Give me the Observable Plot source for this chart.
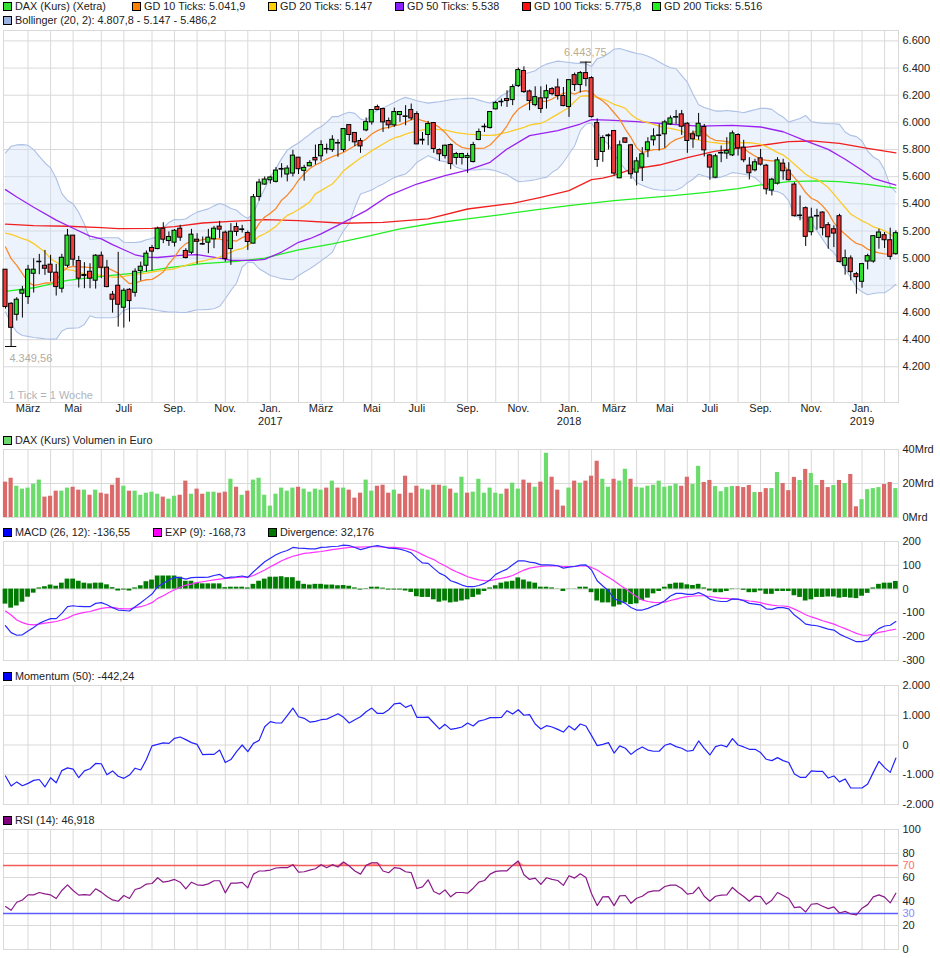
<!DOCTYPE html>
<html><head><meta charset="utf-8">
<script src="https://cdn.jsdelivr.net/npm/d3@7"></script>
<script src="https://cdn.jsdelivr.net/npm/@observablehq/plot@0.6"></script>
<style>
html,body{margin:0;padding:0;background:#fff}
#chart{position:relative;width:940px;height:958px;overflow:hidden;font-family:"Liberation Sans",Arial,sans-serif;font-size:10.85px;color:#222}
#chart svg{position:absolute;left:0;background:transparent;overflow:visible}
.lg{position:absolute;white-space:nowrap;line-height:12px;height:12px}
.sw{position:absolute;width:7px;height:7px;border:1px solid #000}
</style></head><body><div id="chart"></div>
<script>
const bodyTop=[4915,4664,4694,4763,4915,4915,4974,4944,4952,4893,
5003,5166,5166,4979,4876,4900,5018,5018,4930,4731,
4797,4760,4767,4900,4937,5033,5075,5217,5217,5156,
5202,5217,5053,5173,5136,5104,5151,5217,5232,5188,
5195,5229,5212,5185,5449,5557,5579,5594,5645,5657,
5660,5755,5740,5665,5701,5738,5833,5804,5872,5848,
5951,5980,5922,5863,6002,6091,6113,6098,6010,6076,
6076,6044,6091,6061,5872,5988,5995,5796,5828,5833,
5767,5767,5752,5833,5929,5968,6076,6142,6152,6172,
6260,6385,6378,6228,6186,6177,6230,6245,6257,6194,
6311,6348,6363,6363,6326,5995,5885,5904,5936,5831,
5882,5831,5713,5765,5853,5897,5904,6000,6029,6039,
6059,5990,5912,5990,5966,5757,5750,5775,5789,5919,
5907,5814,5681,5706,5735,5681,5578,5720,5696,5645,
5542,5314,5368,5299,5311,5336,5243,5213,5309,5000,
4998,4882,4956,5015,5162,5189,5169,5132,5184];
const bodyBottom=[4640,4487,4583,4738,4713,4885,4970,4922,4893,4787,
4775,4944,4989,4849,4868,4849,4834,4930,4787,4694,
4657,4635,4684,4745,4905,4944,5048,5067,5136,5126,
5114,5151,5001,5040,5121,5100,5114,5139,5210,4994,
5067,5193,5207,5119,5107,5451,5542,5574,5562,5652,
5616,5623,5655,5643,5676,5720,5750,5800,5796,5844,
5796,5907,5853,5823,5941,6000,6091,6000,5978,5978,
6054,6040,6029,5838,5866,5907,5804,5765,5752,5693,
5738,5738,5738,5708,5870,5964,5958,6096,6148,6157,
6164,6267,6223,6157,6127,6098,6177,6208,6194,6120,
6113,6275,6275,6319,6039,5723,5782,5898,5623,5588,
5850,5618,5630,5667,5794,5868,5900,5912,5985,6035,
5968,5863,5875,5897,5794,5667,5593,5771,5770,5757,
5809,5721,5625,5647,5689,5507,5498,5549,5640,5574,
5309,5310,5157,5191,5307,5221,5154,5181,4971,4944,
4897,4860,4826,4975,4975,5149,5132,5010,5029];
const highs=[4915,4672,4709,4792,4947,4996,5028,5057,5021,4954,
5028,5212,5166,5013,4967,4959,5026,5045,4984,4755,
5043,4775,4775,4922,4971,5053,5094,5229,5261,5193,
5210,5242,5070,5212,5180,5156,5212,5234,5271,5200,
5254,5259,5242,5200,5469,5581,5598,5603,5667,5696,
5680,5794,5740,5684,5718,5833,5865,5840,5902,5872,
5951,5980,5922,5882,6032,6091,6127,6105,6032,6105,
6076,6123,6135,6078,5926,6007,5995,5804,5833,5841,
5779,5772,5772,5853,5951,5988,6076,6154,6172,6233,
6277,6400,6409,6238,6262,6262,6275,6257,6319,6257,
6311,6363,6375,6443.75,6336,6025,5902,5914,5941,5863,
5882,5838,5740,5814,5887,5953,5985,6015,6047,6088,
6088,5998,5936,6066,5985,5765,5765,5826,5887,5936,
5917,5868,5740,5728,5801,5691,5588,5740,5728,5703,
5556,5458,5377,5368,5360,5341,5262,5238,5323,5059,
5017,4895,4961,5029,5162,5213,5189,5221,5201];
const lows=[4625,4349.56,4537,4559,4659,4743,4878,4873,4824,4721,
4743,4930,4940,4780,4775,4775,4772,4849,4782,4595,
4492,4485,4529,4713,4831,4898,4905,5062,5107,5087,
5082,5124,4994,5026,4954,5094,5033,5070,5143,4971,
4947,5161,5185,5057,5107,5420,5537,5545,5554,5591,
5562,5598,5616,5567,5674,5686,5713,5767,5779,5743,
5779,5858,5821,5772,5931,5980,6086,5926,5951,5963,
6000,5975,6012,5836,5833,5828,5772,5713,5730,5652,
5686,5686,5625,5701,5865,5926,5951,6091,6115,6110,
6123,6257,6213,6086,6115,6066,6098,6196,6164,6115,
6037,6228,6216,6262,6032,5669,5706,5796,5605,5586,
5845,5581,5532,5564,5740,5826,5789,5809,5978,5985,
5904,5772,5809,5868,5745,5574,5588,5703,5728,5748,
5752,5703,5576,5635,5679,5466,5458,5539,5574,5569,
5304,5275,5086,5164,5206,5164,5066,5078,4966,4875,
4833,4735,4779,4914,4963,5066,5071,4985,5022];
const candleDir=["rrgggggrrr","ggrrgrgrrr","rgrgggrgrg","grrgrrggrr","grgrgggggg","ggrggrgggg","grrrggrrrg","ggrrggrrgr","gggggggggr","ggrrgrgrrr","grgrrrggrg","rrgggggggg","rrrgrrgggg","rrrgrrggrr","rgrggrrrrg","rrggggrrg"].join("");
const volumes=[20.8,23.1,18.4,16.7,17.3,19.6,22,12,12.5,15.5,
15.5,17.3,17.8,16.1,16.1,13.1,16.1,14.3,13.7,19,
23.1,18.4,15.5,15.5,13.1,14.3,14.9,13.7,12,10.8,
12.5,13.1,21.4,13.7,16.7,13.7,14.9,14.9,14.3,14.9,
22.5,17.8,13.1,15.5,22,23.1,13.1,6.7,13.7,17.3,
15.5,17.3,17.8,16.7,14.9,16.7,16.1,17.3,21.4,17.3,
17.3,16.1,11.4,14.3,22,15.5,18.4,19,14.3,16.1,
13.7,24.3,14.3,18.4,16.7,16.1,19,19,18.4,16.7,
14.3,23.7,14.3,14.9,22.5,14.3,17.3,14.3,13.7,16.7,
20.2,16.7,22,20.2,17.8,20.8,37.8,23.7,16.1,6.7,
17.3,21.4,20.2,21.4,24.3,33.1,22.5,17.8,22.5,21.4,
28.4,22.5,17.8,17.3,18.4,19,21.4,17.8,18.4,19.6,
18.4,23.7,19.4,30.1,20.6,21.8,18.2,15.2,17.6,18.2,
18.2,17.6,18.8,14.7,14.7,17,17,26.5,20,15.8,
23.6,21.8,28.3,25.9,18.8,21.8,17.6,18.8,21.8,20,
25.3,6.3,10.5,16.4,17,17.6,19.4,20.6,17];
const volumeDir=["rrgggggrrr","ggrrgrgrrr","rgrgggggrg","grrgrrggrr","grgrgggggg","ggrggggrgr","grrrggrrrg","rrrrggrrgr","ggrggggggr","ggrrgrgrrr","grgrrrggrg","grgggggggg","rrggrrgggg","rrrgrrggrr","rgrggrrgrg","rrggggrrg"].join("");
const gd10=[5082,4996,4947,4886,4824,4800,4807,4817,4817,4831,
4898,4930,4940,4935,4935,4930,4930,4930,4930,4910,
4890,4849,4812,4817,4831,4841,4844,4868,4898,4959,
5008,5070,5107,5124,5126,5136,5143,5143,5141,5131,
5131,5126,5151,5168,5185,5254,5303,5330,5366,5427,
5464,5513,5574,5620,5660,5686,5706,5730,5747,5762,
5779,5804,5828,5853,5877,5914,5939,5956,5963,5975,
5983,6000,6020,6029,6012,6000,5988,5963,5926,5877,
5841,5816,5806,5809,5809,5811,5833,5877,5919,5975,
6049,6098,6123,6147,6152,6154,6154,6172,6196,6213,
6221,6208,6226,6233,6221,6184,6157,6120,6071,6022,
5949,5887,5814,5777,5789,5799,5799,5809,5850,5875,
5887,5912,5924,5941,5924,5887,5868,5863,5858,5850,
5826,5809,5777,5752,5728,5721,5716,5716,5686,5642,
5593,5544,5483,5441,5422,5385,5336,5262,5213,5176,
5140,5108,5096,5066,5049,5039,5032,5029,5041.9];
const gd20=[5185,5175,5161,5143,5131,5107,5077,5045,4996,4971,
4940,4915,4910,4898,4885,4881,4878,4873,4866,4861,
4861,4866,4873,4881,4885,4890,4898,4905,4910,4915,
4922,4935,4947,4959,4971,4979,4989,4996,5008,5028,
5045,5062,5070,5094,5126,5161,5180,5205,5234,5279,
5315,5334,5358,5385,5415,5473,5497,5522,5546,5591,
5644,5676,5706,5738,5762,5792,5816,5841,5865,5885,
5897,5914,5926,5934,5944,5951,5951,5946,5944,5934,
5924,5919,5914,5912,5907,5904,5904,5907,5919,5926,
5939,5951,5963,5980,5988,5993,6012,6037,6061,6086,
6110,6154,6191,6196,6191,6184,6172,6154,6132,6120,
6103,6059,6027,6010,5998,5985,5973,5961,5956,5946,
5936,5912,5880,5870,5863,5855,5850,5843,5843,5846,
5850,5850,5850,5846,5838,5821,5801,5777,5760,5728,
5691,5654,5618,5593,5581,5551,5520,5471,5422,5373,
5324,5299,5275,5255,5230,5218,5201,5176,5147];
const bbUpper=[5775,5824,5834,5836,5831,5799,5750,5701,5665,5587,
5475,5425,5400,5337,5250,5137,5142,5150,5150,5150,
5150,5117,5115,5115,5120,5135,5145,5162,5225,5262,
5285,5283,5288,5317,5339,5351,5363,5385,5402,5390,
5366,5353,5317,5292,5329,5427,5513,5598,5660,5733,
5794,5824,5848,5880,5912,5946,5968,6000,6042,6042,
6061,6074,6066,6025,6012,6061,6091,6105,6127,6147,
6169,6184,6172,6159,6150,6142,6147,6152,6159,6167,
6172,6174,6177,6177,6164,6152,6142,6159,6196,6218,
6253,6324,6356,6368,6380,6409,6429,6441,6451,6446,
6441,6436,6434,6432,6412,6469,6482,6507,6539,6544,
6531,6519,6507,6502,6487,6469,6445,6422,6402,6395,
6345,6296,6209,6130,6110,6097,6083,6083,6088,6083,
6078,6071,6083,6093,6103,6103,6096,6064,6039,6002,
6015,6029,6051,6005,5998,5993,5990,5990,5985,5929,
5904,5895,5863,5789,5745,5721,5650,5532,5486.2];
const bbLower=[4603,4517,4456,4431,4424,4416,4411,4406,4404,4404,
4463,4483,4485,4487,4512,4576,4561,4561,4561,4561,
4571,4615,4630,4632,4632,4628,4623,4615,4608,4603,
4603,4600,4600,4610,4620,4620,4623,4628,4645,4701,
4763,4817,4935,4971,4967,4922,4898,4873,4861,4849,
4844,4841,4873,4898,4922,4950,4980,5010,5044,5130,
5203,5257,5375,5473,5488,5502,5527,5546,5571,5595,
5608,5620,5657,5706,5730,5755,5738,5718,5711,5701,
5669,5657,5649,5649,5652,5657,5652,5644,5627,5615,
5588,5564,5566,5571,5578,5588,5595,5632,5657,5706,
5767,5828,5939,5988,5995,5926,5877,5838,5765,5703,
5654,5613,5556,5537,5520,5507,5502,5500,5500,5502,
5520,5556,5581,5618,5605,5593,5588,5598,5613,5630,
5625,5618,5610,5593,5556,5502,5495,5490,5471,5422,
5311,5299,5287,5262,5201,5140,5078,5041,4980,4919,
4858,4784,4752,4730,4740,4745,4745,4772,4807.8];
const gd50At=[0,2,5,9,12,15,17,19,21,23,25,27,31,34,38,40,44,46,49,52,54,56,60,64,68,73,78,82,86,89,93,98,102,104,107,112,117,123,129,134,138,142,146,149,152,154,158];
const gd50=[5505,5450,5375,5280,5220,5162,5142,5100,5062,5025,5007,5005,5020,5026,5001,4984,4984,4991,5045,5117,5143,5179,5264,5350,5461,5546,5608,5649,5706,5804,5902,5939,5988,6020,6017,6005,5990,5973,5978,5966,5931,5863,5801,5728,5647,5588,5538];
const gd100At=[0,5,11,17,20,26,30,35,40,46,52,60,67,75,82,90,95,100,104,106,108,111,116,121,126,132,139,143,148,153,158];
const gd100=[5250,5240,5235,5225,5217,5220,5232,5259,5271,5284,5277,5257,5264,5289,5362,5404,5448,5497,5578,5590,5610,5654,5686,5740,5789,5819,5858,5863,5846,5809,5775.8];
const gd200At=[0,5,11,17,23,29,35,41,46,52,58,64,70,76,82,88,94,100,108,118,124,130,134,139,144,148,153,158];
const gd200=[4755,4782,4836,4866,4890,4930,4959,4976,5001,5061,5105,5159,5215,5257,5289,5321,5355,5387,5424,5458,5483,5512,5539,5564,5569,5564,5544,5516];
const macd=[-154,-183,-194,-192,-176,-161,-144,-133,-124,-124,
-102,-74,-70,-73,-74,-74,-60,-57,-66,-78,
-88,-90,-92,-74,-57,-39,-21,10,24,38,
49,48,42,48,49,49,50,57,62,46,
50,52,55,49,73,94,115,130,144,155,
162,175,172,171,169,169,175,176,179,180,
185,183,175,166,172,179,183,178,172,171,
168,161,152,129,110,108,87,67,56,35,
27,17,10,10,15,24,39,62,74,84,
102,119,119,113,110,102,102,101,98,88,
92,95,101,102,80,35,13,-7,-41,-49,
-60,-77,-88,-88,-81,-71,-63,-49,-29,-18,
-18,-22,-22,-15,-25,-42,-49,-52,-52,-41,
-42,-49,-60,-63,-66,-83,-85,-78,-78,-83,
-109,-127,-147,-151,-154,-161,-168,-172,-189,-200,
-211,-221,-221,-214,-186,-166,-155,-152,-136.55];
const expSignal=[-92,-109,-130,-141,-148,-150,-147,-143,-140,-136,
-130,-122,-110,-103,-98,-94,-87,-81,-78,-77,
-81,-83,-83,-78,-74,-67,-57,-39,-28,-14,
-3,8,17,21,27,31,35,39,42,45,
46,49,50,50,57,69,80,94,106,119,
129,138,144,150,152,155,158,162,166,169,
172,175,176,176,178,178,178,176,175,175,
173,171,166,157,145,134,124,110,98,84,
73,63,52,45,39,36,35,41,45,50,
57,69,80,88,92,95,97,97,97,95,
95,95,97,97,91,80,64,50,35,17,
1,-15,-32,-46,-52,-56,-57,-55,-48,-42,
-36,-32,-29,-28,-28,-31,-35,-39,-39,-42,
-43,-46,-50,-53,-57,-63,-67,-70,-71,-74,
-84,-95,-108,-117,-124,-133,-140,-147,-157,-166,
-176,-186,-193,-194,-189,-182,-178,-172,-168.73];
const divergence=[-63,-80,-71,-55,-34,-17,5,10,17,12,
25,42,42,33,25,22,25,25,18,6,
-8,-4,-8,5,14,31,38,55,55,55,
55,50,33,33,25,22,22,22,22,6,
8,8,8,5,20,33,42,50,50,52,
48,48,33,20,17,20,20,17,17,14,
15,12,5,-4,2,8,8,4,-4,-4,
-4,-8,-14,-32,-35,-35,-45,-55,-50,-58,
-55,-50,-45,-35,-25,-10,5,14,25,30,
33,47,38,30,25,8,8,5,1,-10,
1,1,8,8,-15,-50,-58,-58,-75,-67,
-58,-65,-62,-48,-38,-20,-10,8,20,25,
25,18,15,20,5,-8,-15,-15,-10,-2,
1,-5,-15,-15,-8,-22,-22,-10,-10,-10,
-28,-35,-50,-45,-35,-35,-33,-33,-38,-35,
-38,-40,-30,-18,5,20,25,25,32.176];
const momentum=[-1040,-1380,-1240,-1370,-1290,-1190,-1160,-1410,-1100,-1270,
-860,-770,-810,-1100,-870,-800,-620,-630,-1000,-870,
-1050,-1120,-1010,-780,-840,-490,-30,20,70,55,
225,270,180,80,20,-325,-315,-315,-170,-590,
-490,-225,0,-225,55,155,615,785,740,740,
985,1240,950,895,770,795,850,870,960,1050,
930,740,850,950,1120,1240,1060,1060,1185,1380,
1410,1265,1345,930,930,940,740,540,695,525,
560,605,740,640,805,850,920,920,930,1155,
1040,1185,1000,1020,705,540,650,605,525,435,
640,505,705,640,315,-20,20,80,-270,-30,
-110,-315,-170,-65,-170,-210,-210,-10,45,-55,
-110,-210,-180,135,-110,-335,-55,0,-65,215,
0,-65,-145,-145,-255,-480,-525,-425,-525,-590,
-975,-1085,-1085,-870,-885,-885,-1110,-1040,-1240,-1140,
-1445,-1445,-1445,-1310,-920,-550,-760,-920,-442.24];
const rsi=[35.8,32.7,39.4,41.3,45.5,45.5,47.5,46.4,45.5,42.5,
49.2,53.9,49.2,45.3,45.8,45.3,50.6,47.8,44.1,41.3,
40.2,45,42.5,50,51.4,54.5,55,59.8,56.1,57,
58.4,56.1,50.6,56.1,53.9,53.4,54.7,57.3,57.3,47.2,
55.3,55.3,55.9,51.4,62.8,65.4,65.6,66.2,67.9,68.2,
68.2,70.7,64.5,64.8,66.2,67.3,70.7,68.2,70.7,68.7,
72.9,69.6,65.4,62.8,70.1,72.3,72.3,65.4,64,68.2,
67.6,64.8,64,50.8,52.2,58.1,48.3,46.1,49.7,43.9,
47.5,47.5,46.9,51.1,56.1,57.5,62.8,65.1,65.6,65.6,
70.1,73.7,62.3,58.4,59.5,54.2,59.8,58.4,57.5,53.4,
61.5,59.5,63.1,60,46.4,36.6,43.9,44.1,36.6,44.7,
45,38.5,42.7,44.4,47.8,48.9,48.9,52.5,53.6,53.6,
50.8,46.1,46.9,52,44.4,40.2,44.4,45.3,45.5,51.7,
47.5,44.1,40.2,44.4,44.1,37.7,41.1,47.5,45,42.5,
34.9,35.5,31.3,37.7,38.3,36,34.1,35.5,30.4,31.8,
29.6,28.8,34.4,37.4,43.9,45.5,43.6,38.8,46.918];
const monthBars=[4,8,12,17,21,26,30,34,39,43,47,52,56,60,65,69,73,78,82,87,91,95,100,104,108,112,117,121,125,130,134,139,143,147,152,156];
const monthLabelBars=[4,12,21,30,39,47,56,65,73,82,91,100,108,117,125,134,143,152];
const monthLabels=["März","Mai","Juli","Sep.","Nov.","Jan.","März","Mai","Juli","Sep.","Nov.","Jan.","März","Mai","Juli","Sep.","Nov.","Jan."];
const yearBars=[47,100,152];
const yearLabels=["2017","2018","2019"];
const priceTicks=[6600,6400,6200,6000,5800,5600,5400,5200,5000,4800,4600,4400,4200];
const volumeTicks=[0,20,40];
const macdTicks=[200,100,0,-100,-200,-300];
const momentumTicks=[2000,1000,0,-1000,-2000];
const rsiTicks=[100,80,60,40,20,0];

const idx=d3.range(159);
const C={grid:"#d9d9d9",up:"#2fe02f",down:"#ee3b3b",volUp:"#6bdc6b",volDown:"#db6b6b",ink:"#222"};
const loc=d3.formatLocale({decimal:",",thousands:".",grouping:[3],currency:["","€"],minus:"-"});
const deNum=loc.format(",d");
const root=document.getElementById("chart");

function grid(yTicks){
  return [
    Plot.ruleY(yTicks,{stroke:C.grid,strokeWidth:1}),
    Plot.ruleX(monthBars,{stroke:C.grid,strokeWidth:1}),
    Plot.frame({stroke:C.grid,strokeWidth:1})
  ];
}
function axis(ticks,fmt,extra){
  return Plot.axisY({anchor:"right",ticks,tickFormat:fmt,tickSize:0,tickPadding:4,fill:C.ink,fontSize:11,label:null,...extra});
}
function panel(top,bottom,domain,marks,marginBottom=1){
  const svg=Plot.plot({
    width:940,height:(bottom-top)+1+marginBottom,
    marginLeft:3,marginRight:42,marginTop:1,marginBottom,
    x:{domain:[-0.355,158.47],axis:null},
    y:{domain,axis:null},
    style:{background:"transparent",fontFamily:'"Liberation Sans",Arial,sans-serif',fontSize:"11px"},
    marks
  });
  svg.style.top=(top-1)+"px";
  root.appendChild(svg);
}
function legend(y,items){
  for(const [x,color,text] of items){
    const s=document.createElement("div");s.className="sw";s.style.cssText=`left:${x}px;top:${y-4}px;background:${color}`;root.appendChild(s);
    const t=document.createElement("div");t.className="lg";t.style.cssText=`left:${x+12}px;top:${y-6}px`;t.textContent=text;root.appendChild(t);
  }
}
const line=(arr,at,stroke,w=1.2)=>Plot.line(idx.filter(i=>at?i<at.length:true),{x:i=>at?at[i]:i,y:i=>arr[i],stroke,strokeWidth:w,curve:"linear"});

// main price panel
panel(30,402,[3937,6676.6],[
  ...grid(priceTicks),
  Plot.areaY(idx,{x:i=>i,y1:i=>bbLower[i],y2:i=>bbUpper[i],fill:"#cfdffb",fillOpacity:0.38,curve:"linear"}),
  line(bbUpper,null,"#adc1e6",1.1),
  line(bbLower,null,"#adc1e6",1.1),
  line(gd200,gd200At,"#22ee22",1.3),
  line(gd100,gd100At,"#f02020",1.3),
  line(gd50,gd50At,"#9a22f0",1.3),
  line(gd20,null,"#fbcb2a",1.3),
  line(gd10,null,"#f98a2c",1.3),
  Plot.ruleX(idx,{x:i=>i,y1:i=>lows[i],y2:i=>highs[i],stroke:"#000",strokeWidth:1}),
  Plot.rect(idx,{x1:i=>i-0.36,x2:i=>i+0.36,y1:i=>bodyBottom[i],y2:i=>bodyTop[i],fill:i=>candleDir[i]==="g"?C.up:C.down,stroke:"#000",strokeWidth:1}),
  Plot.ruleY([4349.56],{x1:0,x2:2,stroke:"#000",strokeWidth:1}),
  Plot.ruleY([6443.75],{x1:102,x2:104,stroke:"#000",strokeWidth:1}),
  Plot.text(["4.349,56"],{x:0.7,y:4349.56,dy:12,textAnchor:"start",fill:"#b3aca0",fontSize:11}),
  Plot.text(["6.443,75"],{x:103.5,y:6443.75,dy:-10,textAnchor:"end",dx:18,fill:"#c0ad8c",fontSize:11}),
  Plot.text(["1 Tick = 1 Woche"],{frameAnchor:"bottom-left",dx:5,dy:-4,fill:"#b0b4bc",fontSize:11}),
  Plot.text(monthLabelBars,{x:d=>d,text:(d,i)=>monthLabels[i],frameAnchor:"bottom",lineAnchor:"top",dy:2,fill:C.ink,fontSize:11}),
  Plot.text(yearBars,{x:d=>d,text:(d,i)=>yearLabels[i],frameAnchor:"bottom",lineAnchor:"top",dy:15,fill:C.ink,fontSize:11}),
  axis(priceTicks,deNum)
],34);

// volume
panel(449,517,[0,40],[
  ...grid(volumeTicks),
  Plot.rect(idx,{x1:i=>i-0.37,x2:i=>i+0.37,y1:0,y2:i=>volumes[i],fill:i=>volumeDir[i]==="g"?C.volUp:C.volDown}),
  axis(volumeTicks,d=>d+"Mrd")
]);

// MACD
panel(541,660,[-300,200],[
  ...grid(macdTicks),
  Plot.rect(idx,{x1:i=>i-0.42,x2:i=>i+0.42,y1:0,y2:i=>divergence[i],fill:"#007a00"}),
  line(expSignal,null,"#ff33ff",1.2),
  line(macd,null,"#2a2aff",1.2),
  axis(macdTicks,d=>d)
]);

// Momentum
panel(685,804,[-2000,2000],[
  ...grid(momentumTicks),
  line(momentum,null,"#2222ff",1.2),
  axis(momentumTicks,deNum)
]);

// RSI
panel(829,949,[0,100],[
  ...grid(rsiTicks),
  Plot.areaY(idx,{x:i=>i,y1:70,y2:i=>Math.max(rsi[i],70),fill:"#ff5050",fillOpacity:0.6}),
  Plot.areaY(idx,{x:i=>i,y1:30,y2:i=>Math.min(rsi[i],30),fill:"#5050ff",fillOpacity:0.6}),
  Plot.ruleY([70],{stroke:"#f45a5a",strokeWidth:1.3}),
  Plot.ruleY([30],{stroke:"#5c5cff",strokeWidth:1.3}),
  line(rsi,null,"#8a1a8a",1.2),
  axis(rsiTicks,d=>d),
  axis([70],d=>d,{fill:"#ff6a6a"}),
  axis([30],d=>d,{fill:"#8a8aff"})
]);

legend(6,[[3,"#33e033","DAX (Kurs) (Xetra)"],[132,"#ff8000","GD 10 Ticks: 5.041,9"],[268,"#ffd000","GD 20 Ticks: 5.147"],[395,"#8a1fff","GD 50 Ticks: 5.538"],[522,"#ff1010","GD 100 Ticks: 5.775,8"],[652,"#22ee22","GD 200 Ticks: 5.516"]]);
legend(20,[[3,"#9ab2e0","Bollinger (20, 2): 4.807,8 - 5.147 - 5.486,2"]]);
legend(440,[[3,"#6bd66b","DAX (Kurs) Volumen in Euro"]]);
legend(532,[[3,"#0000ff","MACD (26, 12): -136,55"],[153,"#ff00ff","EXP (9): -168,73"],[268,"#007700","Divergence: 32,176"]]);
legend(676,[[3,"#0000ff","Momentum (50): -442,24"]]);
legend(820,[[3,"#800080","RSI (14): 46,918"]]);
</script></body></html>
